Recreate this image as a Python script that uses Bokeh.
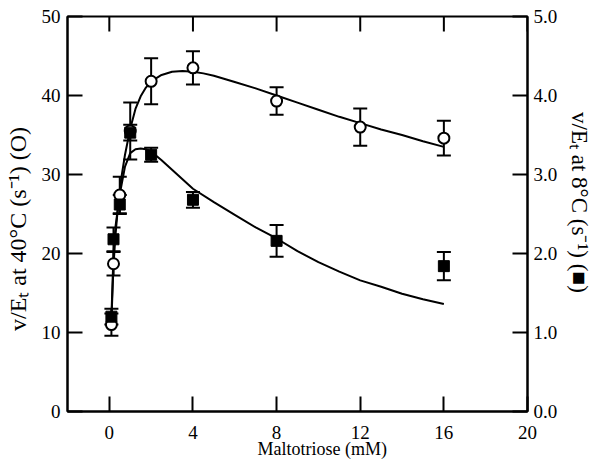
import math
from bokeh.plotting import figure
from bokeh.models import Range1d, LinearAxis, FixedTicker
from bokeh.embed import file_html
from bokeh.resources import INLINE

# ---- data ----
s40 = [0.1, 0.2, 0.5, 1, 2, 4, 8, 12, 16]            # Maltotriose (mM)
v40 = [11.0, 18.7, 27.4, 35.5, 41.8, 43.5, 39.3, 36.0, 34.6]   # v/Et at 40C (s-1)
e40 = [1.4, 1.5, 2.3, 3.6, 2.9, 2.1, 1.75, 2.35, 2.2]

s8 = [0.1, 0.2, 0.5, 1, 2, 4, 8, 16]
v8 = [1.20, 2.18, 2.62, 3.53, 3.25, 2.68, 2.16, 1.84]         # v/Et at 8C (s-1)
e8 = [0.10, 0.15, 0.12, 0.10, 0.09, 0.10, 0.20, 0.18]

fit40_s = [0.1, 0.2, 0.3, 0.4, 0.5, 0.6, 0.75, 1.0, 1.25, 1.5, 1.75, 2, 2.5, 3, 3.5, 4,
           4.5, 5, 6, 7, 8, 9, 10, 11, 12, 13, 14, 15, 16]
fit40 = [11.5, 18.5, 22.5, 25.5, 28.0, 30.0, 32.5, 35.8, 38.3, 39.9, 41.0, 41.8, 42.6, 43.0,
         43.1, 43.0, 42.8, 42.5, 41.7, 40.9, 40.0, 39.1, 38.2, 37.3, 36.5, 35.7, 35.0, 34.2, 33.5]

fit8_s = [0.1, 0.2, 0.3, 0.5, 0.75, 1, 1.25, 1.5, 1.75, 2, 2.5, 3, 3.5, 4, 5, 6, 7, 8, 9,
          10, 11, 12, 13, 14, 15, 16]
fit8 = [1.20, 2.00, 2.35, 2.75, 3.10, 3.27, 3.32, 3.33, 3.32, 3.29, 3.18, 3.06, 2.94, 2.82,
        2.65, 2.49, 2.33, 2.19, 2.03, 1.89, 1.77, 1.66, 1.58, 1.49, 1.42, 1.36]

x_ticks = [0, 4, 8, 12, 16, 20]
left_ticks = [0, 10, 20, 30, 40, 50]
right_ticks = [0, 1, 2, 3, 4, 5]
right_tick_labels = {0: "0.0", 1: "1.0", 2: "2.0", 3: "3.0", 4: "4.0", 5: "5.0"}

FONT = "Liberation Serif"
TICK_FS = "19px"
YMAX = 50
NB = "\u00a0"

p = figure(width=598, height=471, x_range=Range1d(-2, 20), y_range=Range1d(0, YMAX),
           output_backend="svg", toolbar_location=None,
           min_border_left=67, min_border_right=71, min_border_top=16, min_border_bottom=60)
p.extra_y_ranges = {"r": Range1d(0, 5)}
p.xgrid.visible = False
p.ygrid.visible = False
p.outline_line_color = "black"
p.outline_line_width = 2
p.background_fill_color = "white"
p.border_fill_color = "white"


def style_axis(ax, standoff):
    ax.axis_line_width = 2
    ax.axis_line_color = "black"
    ax.major_tick_in = 15
    ax.major_tick_out = 0
    ax.major_tick_line_width = 2
    ax.major_tick_line_color = "black"
    ax.minor_tick_line_color = None
    ax.major_label_text_font = FONT
    ax.major_label_text_font_size = TICK_FS
    ax.major_label_text_color = "black"
    ax.major_label_standoff = standoff
    ax.axis_label_text_font = FONT
    ax.axis_label_text_font_style = "normal"
    ax.axis_label_text_color = "black"


# bottom axis
xa = p.xaxis[0]
xa.ticker = FixedTicker(ticks=x_ticks)
style_axis(xa, 14)
xa.axis_label = NB * 11 + "Maltotriose (mM)"
xa.axis_label_text_font_size = "18px"
xa.axis_label_standoff = -3

# left axis
ya = p.yaxis[0]
ya.ticker = FixedTicker(ticks=left_ticks)
style_axis(ya, 7)
ya.axis_label = "v/E\u209c at 40\u00b0C (s\u207b\u00b9)  (O)" + NB * 4
ya.axis_label_text_font_size = "24px"
ya.axis_label_standoff = 8

# right axis
ra = LinearAxis(y_range_name="r", ticker=FixedTicker(ticks=right_ticks))
style_axis(ra, 6)
ra.major_label_overrides = right_tick_labels
ra.axis_label = "v/E\u209c at 8\u00b0C (s\u207b\u00b9)  (\u25a0)" + NB * 3
ra.axis_label_text_font_size = "23px"
ra.axis_label_standoff = 7
p.add_layout(ra, "right")

# top-edge inward ticks (vertical dashes centred on the frame top; outer half is clipped)
p.scatter(x_ticks, [YMAX] * len(x_ticks), marker="dash", angle=math.pi / 2, size=30,
          line_color="black", line_width=2)

# fitted curves
p.line(fit40_s, fit40, line_color="black", line_width=2)
p.line(fit8_s, fit8, line_color="black", line_width=2, y_range_name="r")

# error bars 40C
lo40 = [v - e for v, e in zip(v40, e40)]
hi40 = [v + e for v, e in zip(v40, e40)]
p.segment(x0=s40, y0=lo40, x1=s40, y1=hi40, line_color="black", line_width=2)
p.scatter(s40 + s40, lo40 + hi40, marker="dash", size=14, line_color="black", line_width=2)

# error bars 8C
lo8 = [v - e for v, e in zip(v8, e8)]
hi8 = [v + e for v, e in zip(v8, e8)]
p.segment(x0=s8, y0=lo8, x1=s8, y1=hi8, line_color="black", line_width=2, y_range_name="r")
p.scatter(s8 + s8, lo8 + hi8, marker="dash", size=14, line_color="black", line_width=2,
          y_range_name="r")

# markers
p.scatter(s40, v40, marker="circle", size=11, fill_color="white", line_color="black",
          line_width=2)
p.scatter(s8, v8, marker="square", size=11, fill_color="black", line_color="black",
          line_width=1, y_range_name="r")

open("out.html", "w").write(file_html(p, INLINE))
